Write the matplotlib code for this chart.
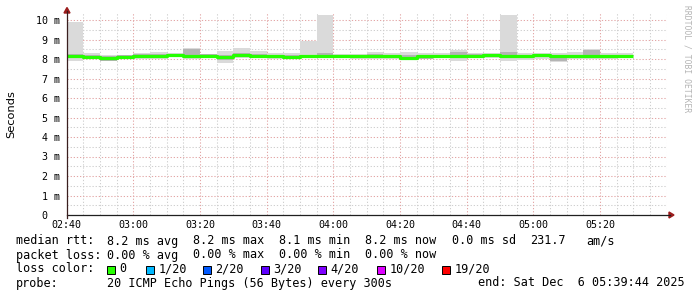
import numpy as np
import matplotlib
matplotlib.use("Agg")
import matplotlib.pyplot as plt
from matplotlib.lines import Line2D
from matplotlib.patches import Rectangle, Polygon

# ---------------- data (5-minute bins starting 02:40) ----------------
median_ms = [8.13, 8.09, 8.04, 8.12, 8.16, 8.16, 8.20, 8.15, 8.17, 8.11, 8.20, 8.17,
             8.14, 8.11, 8.14, 8.14, 8.14, 8.13, 8.13, 8.13, 8.06, 8.14, 8.14, 8.15,
             8.16, 8.20, 8.15, 8.14, 8.18, 8.13, 8.13, 8.14, 8.13, 8.13]
smoke_max = [9.88, 8.31, 8.19, 8.22, 8.29, 8.34, 8.33, 8.55, 8.22, 8.41, 8.56, 8.43,
             8.29, 8.29, 8.90, 10.26, 8.28, 8.28, 8.38, 8.29, 8.34, 8.29, 8.29, 8.46,
             8.33, 8.29, 10.26, 8.33, 8.33, 8.33, 8.38, 8.50, 8.29, 8.29]
smoke_min = [7.88, 7.99, 7.90, 8.00, 8.00, 7.98, 8.09, 8.02, 8.05, 7.80, 8.05, 8.03,
             8.00, 8.00, 8.03, 8.03, 8.03, 8.00, 8.00, 8.00, 7.95, 7.98, 8.03, 7.90,
             8.03, 8.07, 7.91, 7.95, 8.02, 7.86, 7.98, 8.00, 7.98, 8.07]
inner_hi = [8.24, 8.20, 8.14, 8.20, 8.24, 8.24, 8.27, 8.50, 8.25, 8.22, 8.30, 8.26,
            8.22, 8.21, 8.22, 8.30, 8.22, 8.21, 8.24, 8.21, 8.20, 8.21, 8.22, 8.38,
            8.24, 8.26, 8.38, 8.22, 8.25, 8.21, 8.22, 8.46, 8.21, 8.21]
inner_lo = [8.05, 8.03, 7.92, 8.06, 8.09, 8.08, 8.14, 8.09, 8.10, 7.95, 8.12, 8.10,
            8.07, 8.05, 8.08, 8.07, 8.08, 8.06, 8.06, 8.06, 8.00, 7.99, 8.08, 8.05,
            8.09, 8.13, 8.06, 8.05, 8.11, 7.88, 8.06, 8.07, 8.05, 8.09]
bin_minutes = 5
x_tick_labels = ["02:40", "03:00", "03:20", "03:40", "04:00", "04:20", "04:40", "05:00", "05:20"]
y_tick_labels = ["0  ", "1 m", "2 m", "3 m", "4 m", "5 m", "6 m", "7 m", "8 m", "9 m", "10 m"]
loss_labels = ["0", "1/20", "2/20", "3/20", "4/20", "10/20", "19/20"]
loss_colors = ["#26ff00", "#00b8ff", "#0059ff", "#5e00ff", "#7e00ff", "#dd00ff", "#ff0000"]

W, H = 697, 297
fig = plt.figure(figsize=(W / 100, H / 100), dpi=100)
fig.patch.set_facecolor("white")

X0, X1 = 66.7, 666.7
Y0, YT = 215.0, 12.6
ax = fig.add_axes([X0 / W, (H - Y0) / H, (X1 - X0) / W, (Y0 - YT) / H])
ax.set_xlim(0, 180)
ax.set_ylim(0, (Y0 - YT) / 19.5)
ax.set_facecolor("white")

mono = "DejaVu Sans Mono"

# grid
dot = (0, (1.2, 1.8))
for xm in np.arange(0, 181, 5):
    if xm % 20 != 0:
        ax.axvline(xm, color="#cfcfcf", lw=0.75, ls=dot, zorder=0)
for ym in np.arange(0.5, 10.5, 1.0):
    ax.axhline(ym, color="#cfcfcf", lw=0.75, ls=dot, zorder=0)
for xm in np.arange(20, 181, 20):
    ax.axvline(xm, color="#e3a6a6", lw=0.75, ls=dot, zorder=0)
for ym in np.arange(1, 11, 1):
    ax.axhline(ym, color="#e3a6a6", lw=0.75, ls=dot, zorder=0)

# smoke
n = len(median_ms)
starts = np.arange(n) * bin_minutes
smax = np.array(smoke_max)
smin = np.array(smoke_min)
ihi = np.array(inner_hi)
ilo = np.array(inner_lo)
ax.bar(starts, smax - smin, bottom=smin, width=bin_minutes, align="edge",
       color="#dadada", linewidth=0, zorder=2)
ax.bar(starts, ihi - ilo, bottom=ilo, width=bin_minutes, align="edge",
       color="#b4b4b4", linewidth=0, zorder=3)

# median line
edges = np.arange(n + 1) * bin_minutes
med = np.append(median_ms, median_ms[-1])
ax.step(edges, med, where="post", color=loss_colors[0], lw=2.3, zorder=4,
        solid_capstyle="butt")

# ticks
ax.set_xticks(np.arange(0, 161, 20))
ax.set_xticklabels(x_tick_labels, fontsize=7.2, family=mono)
ax.set_yticks(np.arange(0, 11, 1))
ax.set_yticklabels(y_tick_labels, fontsize=7.2, family=mono)
ax.tick_params(axis="both", length=0)
ax.tick_params(axis="x", pad=3.6)
ax.tick_params(axis="y", pad=4.6)
for s in ax.spines.values():
    s.set_visible(False)

# axis lines with arrows
def fx(x):
    return x / W
def fy(y):
    return 1 - y / H

fig.add_artist(Line2D([fx(X0), fx(670)], [fy(Y0), fy(Y0)], color="#1f1f1f", lw=0.9))
fig.add_artist(Line2D([fx(X0), fx(X0)], [fy(218), fy(11)], color="#3a1f1f", lw=0.9))
arrow_c = "#9b1c1c"
fig.add_artist(Polygon([[fx(669), fy(212)], [fx(669), fy(218)], [fx(674), fy(215)]],
                       closed=True, color=arrow_c, transform=fig.transFigure))
fig.add_artist(Polygon([[fx(64), fy(13)], [fx(70), fy(13)], [fx(67), fy(7.5)]],
                       closed=True, color=arrow_c, transform=fig.transFigure))

# y label
fig.text(fx(11), fy(114), "Seconds", rotation=90, ha="center", va="center",
         fontsize=8.2, family="DejaVu Sans")

# watermark
fig.text(fx(687), fy(59), "RRDTOOL / TOBI OETIKER", rotation=270, ha="center", va="center",
         fontsize=5.8, family=mono, color="#b4b4b4")

# legend text
fs = 8.5
def t(x, y, s):
    fig.text(fx(x), fy(y), s, ha="left", va="center", fontsize=fs, family=mono)

cols = [107, 193, 279, 365]
y1, y2, y3, y4 = 241, 255, 269, 283
t(16, y1, "median rtt:")
for cx, s in zip(cols, ["8.2 ms avg", "8.2 ms max", "8.1 ms min", "8.2 ms now"]):
    t(cx, y1, s)
t(452, y1, "0.0 ms sd")
t(530, y1, "231.7")
t(586, y1, "am/s")

t(16, y2, "packet loss:")
for cx, s in zip(cols, ["0.00 % avg", "0.00 % max", "0.00 % min", "0.00 % now"]):
    t(cx, y2, s)

t(16, y3, "loss color:")
box_x = [107, 146, 203, 261, 318, 377, 442]
for bx, lab, col in zip(box_x, loss_labels, loss_colors):
    fig.add_artist(Rectangle((fx(bx), fy(y3 + 4.5)), 8 / W, 8 / H, facecolor=col,
                             edgecolor="black", lw=0.7, transform=fig.transFigure))
    t(bx + 12.5, y3, lab)

t(16, y4, "probe:")
t(107, y4, "20 ICMP Echo Pings (56 Bytes) every 300s")
t(478, y4, "end: Sat Dec  6 05:39:44 2025")

fig.savefig("out.png", dpi=100, facecolor="white")
